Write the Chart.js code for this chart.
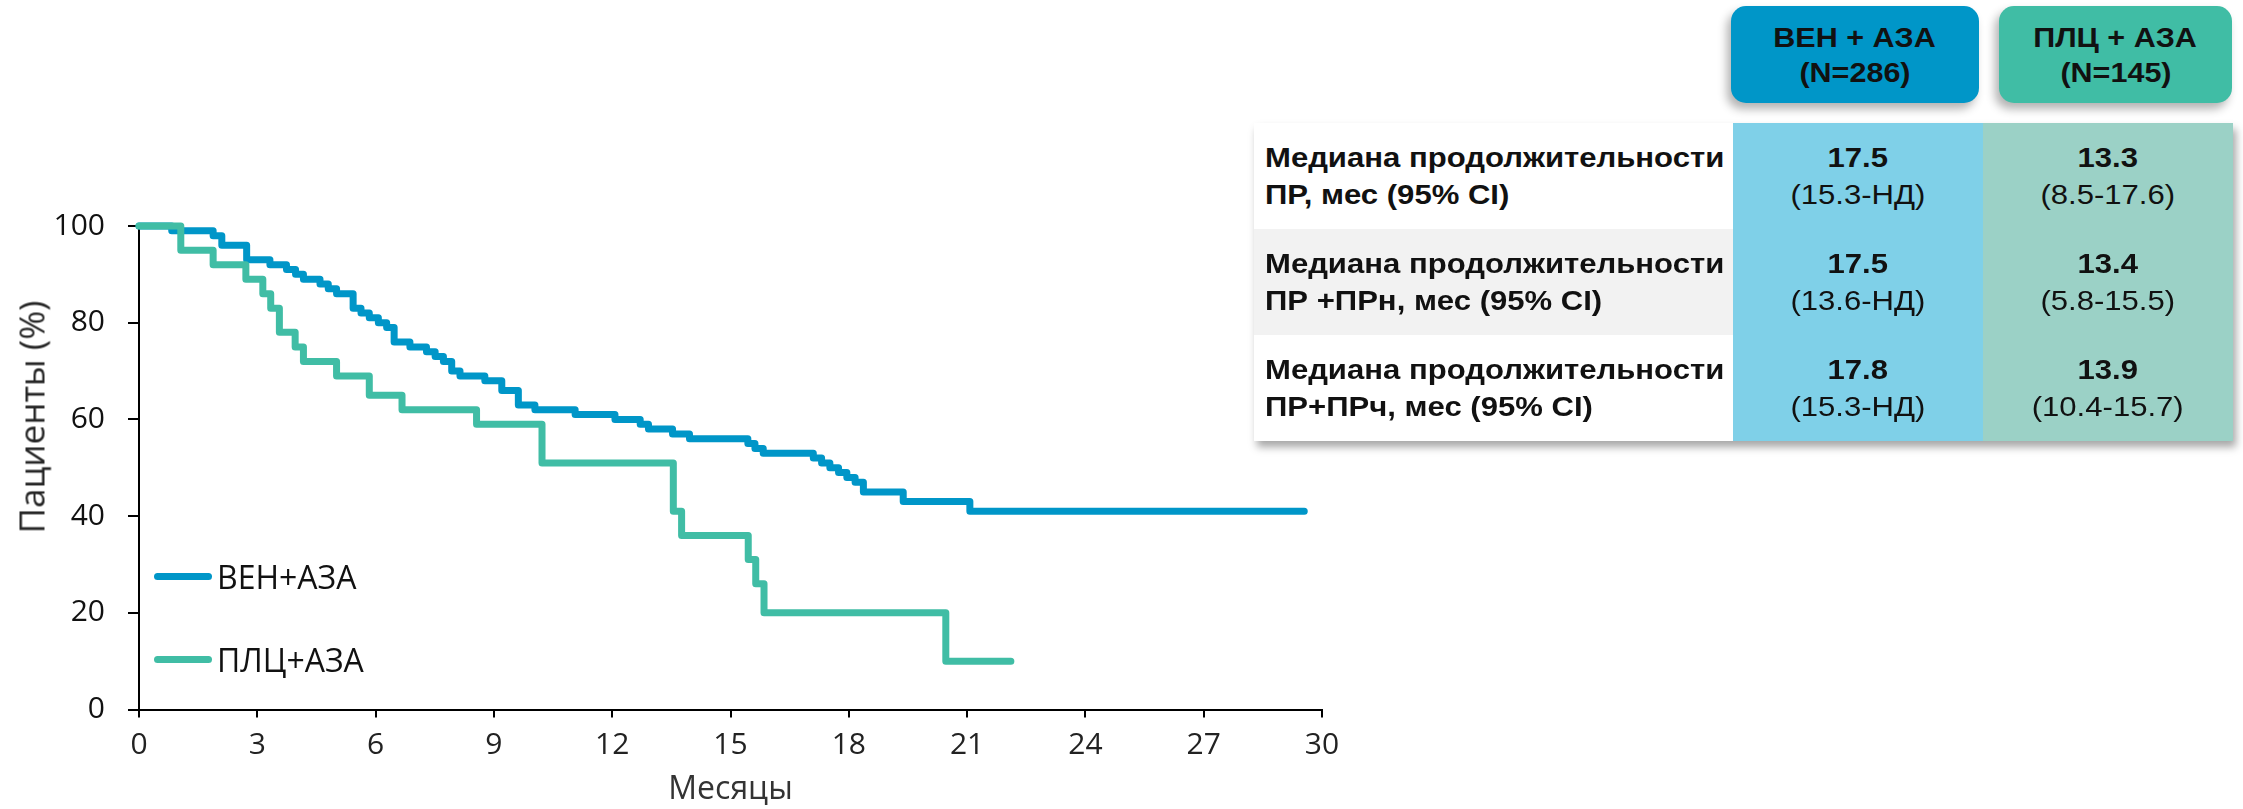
<!DOCTYPE html>
<html>
<head>
<meta charset="utf-8">
<script src="https://cdn.jsdelivr.net/npm/chart.js@4.4.1/dist/chart.umd.min.js"></script>
<style>
html, body { margin: 0; padding: 0; background: #fff; }
body { width: 2243px; height: 809px; overflow: hidden; position: relative; font-family: "Liberation Sans", Arial, sans-serif; }
#km { position: absolute; left: 0; top: 0; }
#ytitle { position: absolute; left: 31px; top: 417px; transform: translate(-50%, -50%) rotate(-90deg); font: 35px "Open Sans", sans-serif; color: #262626; white-space: nowrap; }
#legend { position: absolute; left: 154px; top: 552px; font: 32px "Open Sans", sans-serif; color: #111; }
#legend .item { position: absolute; left: 0; display: flex; align-items: center; height: 48px; white-space: nowrap; }
#legend .item:nth-child(1) { top: 0; }
#legend .item:nth-child(2) { top: 83px; }
#legend .swatch { width: 58px; height: 7px; border-radius: 4px; margin-right: 5px; }
.sx { display: inline-block; transform: scaleX(1.09); }
.hdr { position: absolute; top: 6px; height: 97px; border-radius: 15px; color: #111; font-weight: bold; font-size: 28px; line-height: 35px; text-align: center; display: flex; flex-direction: column; justify-content: center; box-shadow: -4px 6px 10px rgba(0,0,0,0.3); }
#tbl { position: absolute; left: 1254px; top: 123px; border-collapse: collapse; box-shadow: 3px 6px 8px rgba(0,0,0,0.35); }
#tbl td { padding: 0; height: 106px; font-size: 28.5px; line-height: 37px; color: #111; }
#tbl td.lbl { width: 468px; padding-left: 11px; font-weight: bold; }
#tbl td.lbl .sx { transform-origin: left center; }
#tbl td.val { width: 250px; text-align: center; }
#tbl td.val b { display: block; }
</style>
</head>
<body>
<canvas id="km" width="1360" height="809"></canvas>
<div id="ytitle"></div>
<div id="legend"></div>
<div class="hdr" id="hdrA" style="left:1731px;width:248px;"></div>
<div class="hdr" id="hdrB" style="left:1999px;width:233px;"></div>
<table id="tbl"><tbody></tbody></table>
<script>
// Kaplan-Meier curves (months, % of patients)
const venTimes = [0, 0.83, 1.88, 2.1, 2.73, 3.32, 3.74, 3.97, 4.17, 4.59, 4.8, 5.01, 5.43, 5.63, 5.84, 6.07, 6.28, 6.47, 6.87, 7.29, 7.51, 7.72, 7.93, 8.14, 8.77, 9.2, 9.62, 10.04, 11.06, 12.07, 12.71, 12.92, 13.53, 13.96, 15.44, 15.62, 15.83, 17.1, 17.31, 17.52, 17.74, 17.95, 18.16, 18.37, 19.38, 21.07, 29.55];
const venSurv  = [100, 99, 98, 96, 93, 92, 91, 90, 89, 88, 87, 86, 83, 82, 81, 80, 79, 76, 75, 74, 73, 72, 70, 69, 68, 66, 63, 62, 61, 60, 59, 58, 57, 56, 55, 54, 53, 52, 51, 50, 49, 48, 47, 45, 43, 41, 41];
const plcTimes = [0, 1.06, 1.88, 2.71, 3.14, 3.34, 3.56, 3.96, 4.17, 5.01, 5.84, 6.67, 8.56, 10.22, 13.55, 13.76, 15.45, 15.64, 15.85, 20.46, 22.11];
const plcSurv  = [100, 95, 92, 89, 86, 83, 78, 75, 72, 69, 65, 62, 59, 51, 41, 36, 31, 26, 20, 10, 10];

const seriesLabels = ["ВЕН+АЗА", "ПЛЦ+АЗА"];
const xTitle = "Месяцы";
const yTitle = "Пациенты (%)";

// table on the right
const armHeaders = [["ВЕН + АЗА", "(N=286)"], ["ПЛЦ + АЗА", "(N=145)"]];
const rowLabels = [
    ["Медиана продолжительности", "ПР, мес (95% CI)"],
    ["Медиана продолжительности", "ПР +ПРн, мес (95% CI)"],
    ["Медиана продолжительности", "ПР+ПРч, мес (95% CI)"]
];
const venMedians = ["17.5", "17.5", "17.8"];
const venCI = ["(15.3-НД)", "(13.6-НД)", "(15.3-НД)"];
const plcMedians = ["13.3", "13.4", "13.9"];
const plcCI = ["(8.5-17.6)", "(5.8-15.5)", "(10.4-15.7)"];

const blue = "#0096c8";
const green = "#40bda5";

Chart.defaults.font.family = "'Open Sans', sans-serif";

const toPoints = (ts, vs) => ts.map((t, i) => ({ x: t, y: vs[i] }));

const ctx = document.getElementById("km").getContext("2d");
const kmChart = new Chart(ctx, {
    type: "line",
    data: {
        datasets: [
            { label: seriesLabels[0], data: toPoints(venTimes, venSurv), borderColor: blue, backgroundColor: blue, borderWidth: 7, pointRadius: 0, stepped: true, borderCapStyle: "round", borderJoinStyle: "round", clip: false, order: 1 },
            { label: seriesLabels[1], data: toPoints(plcTimes, plcSurv), borderColor: green, backgroundColor: green, borderWidth: 7, pointRadius: 0, stepped: true, borderCapStyle: "round", borderJoinStyle: "round", clip: false, order: 0 }
        ]
    },
    options: {
        responsive: false,
        animation: false,
        layout: { padding: { top: 226, right: 38, left: 0, bottom: 0 } },
        plugins: { legend: { display: false }, tooltip: { enabled: false } },
        scales: {
            x: {
                type: "linear", min: 0, max: 30,
                ticks: { stepSize: 3, color: "#222", font: { size: 30 }, padding: 10 },
                grid: { drawOnChartArea: false, tickLength: 8, color: "#000", lineWidth: 2 },
                border: { color: "#000", width: 2 },
                title: { display: true, text: xTitle, color: "#333", font: { size: 32 }, padding: { top: 0, bottom: 0 } },
                afterFit: scale => { scale.height = 99.5; }
            },
            y: {
                min: 0, max: 100,
                ticks: { stepSize: 20, color: "#111", font: { size: 30 }, padding: 23 },
                grid: { drawOnChartArea: false, tickLength: 11, color: "#000", lineWidth: 2 },
                border: { color: "#000", width: 2 },
                afterFit: scale => { scale.width = 139; }
            }
        }
    }
});

// y title and legend as HTML, built from the chart
document.getElementById("ytitle").textContent = yTitle;
const legendEl = document.getElementById("legend");
kmChart.data.datasets.forEach(ds => {
    const item = document.createElement("div");
    item.className = "item";
    item.innerHTML = `<span class="swatch" style="background:${ds.borderColor}"></span><span>${ds.label}</span>`;
    legendEl.appendChild(item);
});

// header boxes
[["hdrA", blue], ["hdrB", green]].forEach(([id, col], i) => {
    const el = document.getElementById(id);
    el.style.background = col;
    el.innerHTML = armHeaders[i].map(s => `<div><span class="sx">${s}</span></div>`).join("");
});

// table rows
const tbody = document.querySelector("#tbl tbody");
rowLabels.forEach((lbl, i) => {
    const tr = document.createElement("tr");
    const bg = i === 1 ? "#f2f2f2" : "#ffffff";
    tr.innerHTML =
        `<td class="lbl" style="background:${bg}"><span class="sx">${lbl[0]}</span><br><span class="sx">${lbl[1]}</span></td>` +
        `<td class="val" style="background:#7fd0e8"><b><span class="sx">${venMedians[i]}</span></b><span class="sx">${venCI[i]}</span></td>` +
        `<td class="val" style="background:#9bd1c6"><b><span class="sx">${plcMedians[i]}</span></b><span class="sx">${plcCI[i]}</span></td>`;
    tbody.appendChild(tr);
});
</script>
</body>
</html>
